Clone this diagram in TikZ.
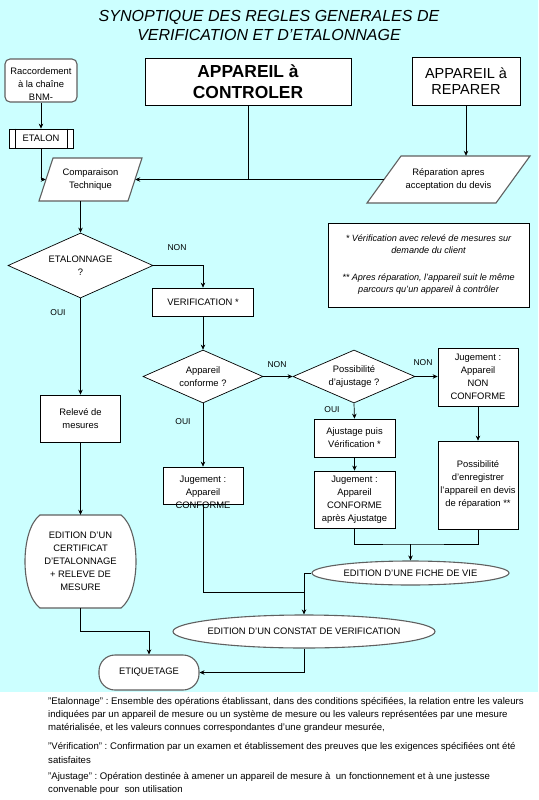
\documentclass[tikz,border=0pt]{standalone}
\usepackage{fontspec}
\setmainfont{Liberation Sans}
\usetikzlibrary{shapes.geometric,arrows.meta}

\begin{document}
\frenchspacing
\begin{tikzpicture}[x=1pt,y=1pt,yscale=-1,xscale=1,
  font=\fontsize{9.4}{13}\selectfont,
  box/.style={draw, fill=white, line width=0.7pt, align=center, inner sep=0pt},
  greyline/.style={draw={rgb, 255:red, 96; green, 96; blue, 96}, line width=1.1pt},
  diam/.style={draw, fill=white, diamond, aspect=2.2, line width=0.7pt, align=center, inner sep=0pt},
  oval/.style={greyline, fill=white, ellipse, inner sep=0pt},
  txt/.style={align=center, inner sep=0pt},
  lbl/.style={inner sep=0pt, font=\fontsize{8.5}{10}\selectfont},
  defn/.style={anchor=west, inner sep=0pt, font=\fontsize{9.6}{11}\selectfont},
  arr/.style={-{Stealth[length=5pt,width=4.5pt]}, line width=0.7pt},
  link/.style={line width=0.7pt}]
\path (0,0) rectangle (538,800);

%Shape: Background
\fill [white] (0,0) rectangle (538,800);
\fill [color={rgb, 255:red, 204; green, 255; blue, 255 }] (0,0) rectangle (538,692);

%Shape: Parallelogram
\draw [greyline, fill=white] (53,158) -- (142,158) -- (128,201) -- (39,201) -- cycle;
%Shape: Parallelogram
\draw [greyline, fill=white] (401,156) -- (530,156) -- (496,203) -- (367,203) -- cycle;
%Shape: Bulged box
\draw [greyline, fill=white] (40,515) -- (121,515) .. controls (141,530) and (141,593) .. (121,608) -- (40,608) .. controls (20,593) and (20,530) .. (40,515) -- cycle;

% Text Node
\node [txt, font=\itshape\fontsize{16}{19}\selectfont] (title) at (269,25.5) {SYNOPTIQUE DES REGLES GENERALES DE\\VERIFICATION ET D'ETALONNAGE};

%Shape: Rounded Rect
\node [greyline, fill=white, rounded corners=5pt, minimum width=72, minimum height=43] (rac) at (41,80.5) {};
\node [txt] (rac-t) at (41,84) {Raccordement\\à la chaîne\\BNM-};
%Shape: Rectangle
\node [box, minimum width=64, minimum height=19] (eta) at (41,138.5) {ETALON};
\draw [link] ([xshift=7pt]eta.north west) -- ([xshift=7pt]eta.south west);
\draw [link] ([xshift=-6pt]eta.north east) -- ([xshift=-6pt]eta.south east);
%Shape: Rectangle
\node [box, minimum width=206, minimum height=47, font=\bfseries\fontsize{17.4}{21}\selectfont] (ctrl) at (248,81.5) {APPAREIL à\\CONTROLER};
%Shape: Rectangle
\node [box, minimum width=108, minimum height=48, font=\fontsize{14.5}{16.5}\selectfont] (rpr) at (466,81) {APPAREIL à\\REPARER};
% Text Node
\node [txt, minimum width=89, minimum height=43] (cmp) at (90.5,179.5) {Comparaison\\Technique};
% Text Node
\node [txt, minimum width=129, minimum height=47] (rep) at (448.5,179.5) {Réparation apres\\acceptation du devis};

%Shape: Diamond
\node [diam, minimum width=145, minimum height=65] (etg) at (80.5,265.5) {ETALONNAGE\\?};
%Shape: Rectangle
\node [box, minimum width=101, minimum height=28] (ver) at (203,302) {VERIFICATION *};
%Shape: Rectangle
\node [box, minimum width=201, minimum height=84, font=\itshape\fontsize{9.1}{12}\selectfont] (note) at (428.5,265) {* Vérification avec relevé de mesures sur\\demande du client\\[15pt]** Apres réparation, l'appareil suit le même\\parcours qu'un appareil à contrôler};

%Shape: Diamond
\node [diam, aspect=2.26, minimum width=120, minimum height=53] (cnf) at (203,376.5) {Appareil\\conforme ?};
%Shape: Diamond
\node [diam, aspect=2.3, minimum width=122, minimum height=53] (pos) at (354,376.5) {Possibilité\\d'ajustage ?};
%Shape: Rectangle
\node [box, minimum width=80, minimum height=58] (jnc) at (478,377) {Jugement :\\Appareil\\NON\\CONFORME};
%Shape: Rectangle
\node [box, minimum width=80, minimum height=47] (rel) at (80.5,418.5) {Relevé de\\mesures};
%Shape: Rectangle
\node [box, minimum width=81, minimum height=38] (ajs) at (354.5,438) {Ajustage puis\\Vérification *};
%Shape: Rectangle
\node [box, minimum width=80, minimum height=88] (enr) at (478,485) {Possibilité\\d'enregistrer\\l'appareil en devis\\de réparation **};
%Shape: Rectangle
\node [box, minimum width=80, minimum height=37] (jcf) at (203,485.5) {};
\node [txt] (jcf-t) at (203,492.5) {Jugement :\\Appareil\\CONFORME};
%Shape: Rectangle
\node [box, minimum width=81, minimum height=57] (jap) at (354.5,499.5) {Jugement :\\Appareil\\CONFORME\\après Ajustatge};

% Text Node
\node [txt, minimum width=96, minimum height=93] (cert) at (80.5,561.5) {EDITION D'UN\\CERTIFICAT\\D'ETALONNAGE\\+ RELEVE DE\\MESURE};
%Shape: Ellipse
\node [oval, minimum width=197, minimum height=24] (fiche) at (410.5,573) {\makebox[0pt]{EDITION D'UNE FICHE DE VIE}};
%Shape: Ellipse
\node [oval, minimum width=262, minimum height=33] (cst) at (304,631.5) {\makebox[0pt]{EDITION D'UN CONSTAT DE VERIFICATION}};
%Shape: Rounded Rect
\node [greyline, fill=white, rounded corners=16pt, minimum width=100, minimum height=35] (etq) at (149,672.5) {ETIQUETAGE};

% Text Node
\node [lbl] (non1) at (177,248) {NON};
\node [lbl] (oui1) at (58,313) {OUI};
\node [lbl] (non2) at (277,365) {NON};
\node [lbl] (oui2) at (183,422) {OUI};
\node [lbl] (non3) at (423,363) {NON};
\node [lbl] (oui3) at (332,410) {OUI};

%Straight Lines
\draw [arr] (rac.south) -- (eta.north);
\draw [arr] (eta.south) |- (cmp.west);
\draw [link] (ctrl.south) -- (ctrl.south |- cmp.east);
\draw [arr] (rpr.south) -- (rpr.south |- rep.north);
\draw [arr] (rep.west) -- (cmp.east);
\draw [arr] (etg.north |- cmp.south) -- (etg.north);
\draw [arr] (etg.east) -| (ver.north);
\draw [arr] (etg.south) -- (rel.north);
\draw [arr] (ver.south) -- (cnf.north);
\draw [arr] (cnf.east) -- (pos.west);
\draw [arr] (pos.east) -- (pos.east -| jnc.west);
\draw [arr] (jnc.south) -- (enr.north);
\draw [arr] (pos.south) -- (ajs.north);
\draw [arr] (ajs.south) -- (jap.north);
\draw [arr] (cnf.south) -- (jcf.north);
\draw [arr] (rel.south) -- (cert.north);
\draw [arr] (cert.south) -- ++(0,23) -| (etq.north);
\coordinate (jn) at (304,592);
\coordinate (jf) at (410.5,544);
\draw [link] (jcf.south) |- (jn);
\draw [arr] (fiche.west) -| (cst.north);
\draw [link] (jap.south) |- (jf) -| (enr.south);
\draw [arr] (jf) -- (fiche.north);
\draw [arr] (cst.south) |- (etq.east);

% Text Node
\node [defn] (def1) at (48,702) {"Etalonnage" : Ensemble des opérations établissant, dans des conditions spécifiées, la relation entre les valeurs};
\node [defn] (def2) at (48,715) {indiquées par un appareil de mesure ou un système de mesure ou les valeurs représentées par une mesure};
\node [defn] (def3) at (48,728) {matérialisée, et les valeurs connues correspondantes d'une grandeur mesurée,};
\node [defn] (def4) at (48,747) {"Vérification" : Confirmation par un examen et établissement des preuves que les exigences spécifiées ont été};
\node [defn] (def5) at (48,760) {satisfaites};
\node [defn] (def6) at (48,777) {"Ajustage" : Opération destinée à amener un appareil de mesure à\ \ un fonctionnement et à une justesse};
\node [defn] (def7) at (48,790) {convenable pour\ \ son utilisation};

\end{tikzpicture}
\end{document}
